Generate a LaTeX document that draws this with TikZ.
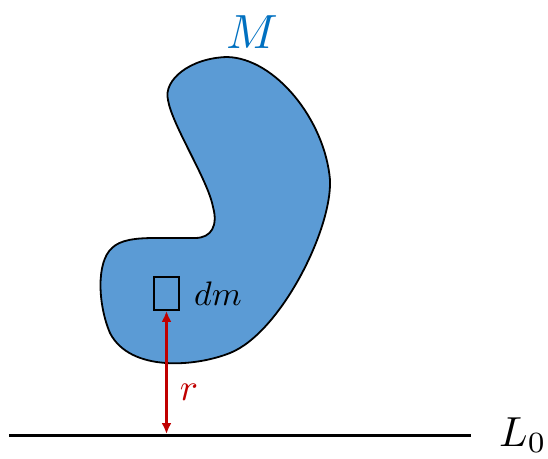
\documentclass[tikz,border=0pt]{standalone}
\usepackage{graphicx}
\usetikzlibrary{arrows.meta}
\definecolor{blobfill}{HTML}{5B9BD5}
\definecolor{mblue}{HTML}{0070C0}
\definecolor{darkred}{HTML}{C00000}
\begin{document}
\begin{tikzpicture}[x=1pt,y=-1pt,
  blob/.style={draw=black,line width=1.8pt,fill=blobfill,line join=round},
  massbox/.style={draw=black,line width=1.8pt,minimum width=25pt,minimum height=33pt,inner sep=0pt},
  ground/.style={draw=black,line width=3pt},
  distarrow/.style={draw=darkred,line width=2.3pt,{Latex[length=11pt,width=10pt]}-{Latex[length=11pt,width=10pt]}},
  lbl/.style={inner sep=0pt}]
\useasboundingbox (0,0) rectangle (548,458);
\path[blob] (227,57) .. controls (275,58) and (325,120) .. (330,180)
  .. controls (332,230) and (280,333) .. (230,353)
  .. controls (195,367) and (130,372) .. (110,333)
  .. controls (98,305) and (96,262) .. (112,248)
  .. controls (120,240) and (135,238) .. (155,238)
  -- (195,238)
  .. controls (212,238) and (218,225) .. (213,207)
  .. controls (208,180) and (172,125) .. (168,100)
  .. controls (163,80) and (190,58) .. (227,57) -- cycle;
\node[massbox] (box) at (166.5,293.5) {};
\coordinate (gl) at (9,435.5);
\coordinate (gr) at (471,435.5);
\draw[ground] (gl) -- (gr);
\coordinate (foot) at (166.5,434);
\draw[distarrow] (box.south) -- (foot);
\node[lbl,anchor=base west] (dm) at (194,305) {\scalebox{3.4}{$dm$}};
\node[lbl,anchor=base,text=darkred] (r) at (189,400) {\scalebox{3.8}{$r$}};
\node[lbl,anchor=base,text=mblue] (M) at (252,48) {\scalebox{4.8}{$M$}};
\node[lbl,anchor=base west] (L0) at (499,446) {\scalebox{4.2}{$L_0$}};
\end{tikzpicture}
\end{document}
